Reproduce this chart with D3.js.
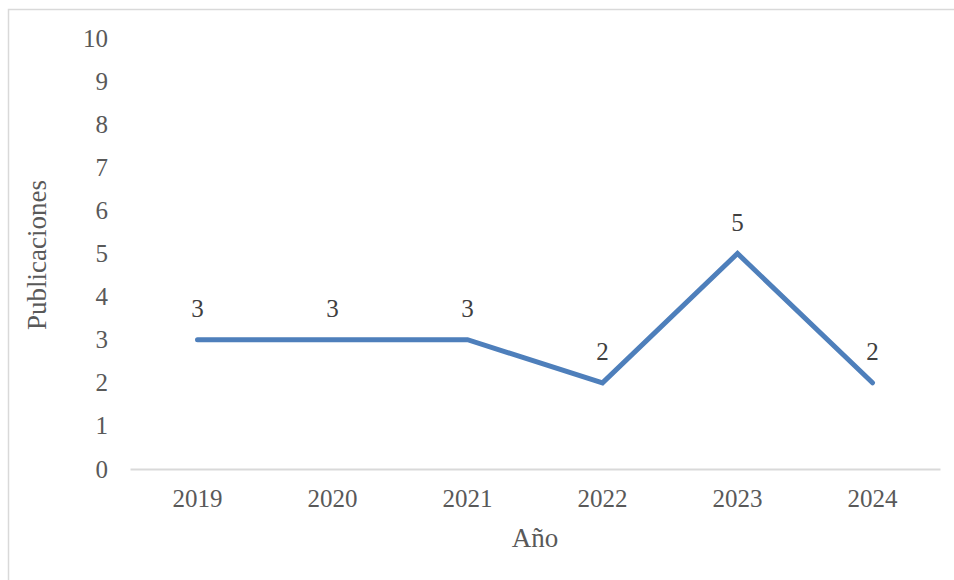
<!DOCTYPE html>
<html><head><meta charset="utf-8">
<script src="https://cdn.jsdelivr.net/npm/d3@7"></script>
<style>body{margin:0;background:#fff;} svg{display:block;}</style>
</head><body>
<script>
const years = ["2019","2020","2021","2022","2023","2024"];
const publicaciones = [3,3,3,2,5,2];
const yTicks = [0,1,2,3,4,5,6,7,8,9,10];

const W = 954, H = 580;
const font = "'Liberation Serif', 'DejaVu Serif', serif";
const svg = d3.select("body").append("svg").attr("width", W).attr("height", H);

svg.append("rect").attr("x", 8.5).attr("y", 9.5).attr("width", 1000).attr("height", 1000)
  .attr("fill", "#fff").attr("stroke", "#d9d9d9").attr("stroke-width", 1.5);

const x = d3.scaleBand().domain(years).range([130, 940]);
const y = d3.scaleLinear().domain([0, 10]).range([469, 38]);

// y axis labels
const yAxis = svg.append("g").attr("transform", "translate(108,0)")
  .call(d3.axisLeft(y).tickValues(yTicks).tickSize(0).tickPadding(0));
yAxis.select(".domain").remove();
yAxis.selectAll("text").attr("font-family", font).attr("font-size", 25).attr("fill", "#595959");

// x axis
const xAxis = svg.append("g").attr("transform", "translate(0,469)")
  .call(d3.axisBottom(x).tickSize(0).tickPadding(20));
xAxis.select(".domain").attr("stroke", "#d9d9d9").attr("stroke-width", 2);
xAxis.selectAll("text").attr("font-family", font).attr("font-size", 25).attr("fill", "#595959");

// line
const line = d3.line().x((d, i) => x(years[i]) + x.bandwidth() / 2).y(d => y(d));
svg.append("path").datum(publicaciones).attr("d", line)
  .attr("fill", "none").attr("stroke", "#4e7fbb").attr("stroke-width", 5)
  .attr("stroke-linecap", "round").attr("stroke-linejoin", "miter");

// data labels
svg.selectAll(".lbl").data(publicaciones).enter().append("text")
  .attr("x", (d, i) => x(years[i]) + x.bandwidth() / 2)
  .attr("y", d => y(d) - 23)
  .attr("text-anchor", "middle").attr("font-family", font).attr("font-size", 25)
  .attr("fill", "#404040").text(d => d);

// axis titles
svg.append("text").attr("x", 535).attr("y", 547).attr("text-anchor", "middle")
  .attr("font-family", font).attr("font-size", 27).attr("fill", "#595959").text("Año");
svg.append("text").attr("transform", "translate(46,255) rotate(-90)").attr("text-anchor", "middle")
  .attr("font-family", font).attr("font-size", 27).attr("fill", "#595959").text("Publicaciones");
</script>
</body></html>
